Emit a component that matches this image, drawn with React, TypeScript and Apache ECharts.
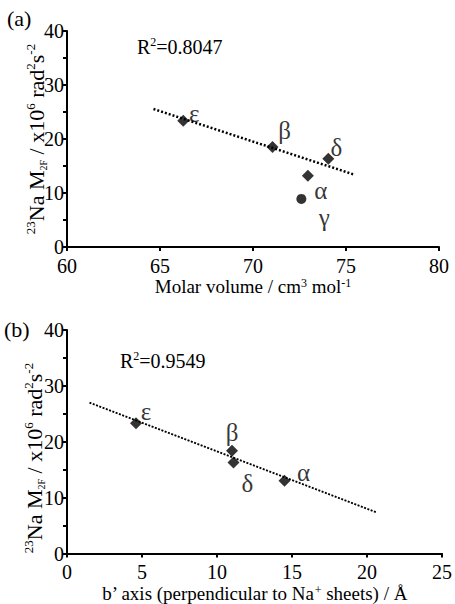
import React, { useEffect, useRef } from "react";
import * as echarts from "echarts";

// Panel (a): molar volume vs 23Na M2F
const aNames = ["ε", "β", "δ", "α"];
const aX = [66.25, 71.05, 74.05, 72.95];
const aY = [23.4, 18.5, 16.35, 13.2];
const aOutName = "γ";
const aOutX = 72.6;
const aOutY = 8.9;
const aFitX = [64.65, 75.4];
const aFitY = [25.55, 13.45];
const aR2 = "0.8047";

// Panel (b): b' axis vs 23Na M2F
const bNames = ["ε", "β", "δ", "α"];
const bX = [4.6, 11.0, 11.1, 14.5];
const bY = [23.3, 18.4, 16.3, 13.0];
const bFitX = [1.5, 20.6];
const bFitY = [27.0, 7.4];
const bR2 = "0.9549";

const yTicks = [0, 10, 20, 30, 40];

// label offsets (styling)
const aOffsets = [[11, -7], [12, -17], [8, -11], [13, 15]];
const aOutOffset = [23, 19];
const bOffsets = [[10, -12], [0, -18], [14, 21], [19, -8]];

const FONT = "Liberation Serif";

export default function App() {
  const ref = useRef<HTMLDivElement>(null);
  useEffect(() => {
    document.body.style.margin = "0";
    const chart = echarts.init(ref.current!, null, { renderer: "svg" });
    const yNameRich = {
      sup: { fontSize: 13, verticalAlign: "top", fontFamily: FONT, fill: "#000", lineHeight: 24 },
      sub: { fontSize: 10, verticalAlign: "bottom", fontFamily: FONT, fill: "#000", lineHeight: 21 },
      n: { fontSize: 22, fontFamily: FONT, fill: "#000", lineHeight: 24 },
    };
    const xNameRich = {
      sup: { fontSize: 12, verticalAlign: "top", fontFamily: FONT, color: "#000", lineHeight: 20 },
      n: { fontSize: 19, fontFamily: FONT, color: "#000", lineHeight: 20 },
    };
    const yName = "{sup|23}{n|Na M}{sub|2F}{n| / x10}{sup|6}{n| rad}{sup|2}{n|s}{sup|-2}";
    const axisCommon = {
      axisLine: { show: true, lineStyle: { color: "#000", width: 2 } },
      axisTick: { show: true, inside: false, length: 4, lineStyle: { color: "#000", width: 2 } },
      splitLine: { show: false },
    };
    const yAxisBase = (gridIndex: number) => ({
      type: "value",
      gridIndex,
      min: 0,
      max: 40,
      interval: 5,
      ...axisCommon,
      axisLabel: {
        color: "#000",
        fontFamily: FONT,
        fontSize: 20,
        lineHeight: 14,
        margin: 3,
        formatter: (v: number) => (yTicks.includes(v) ? String(v) : ""),
      },
    });
    const greekLabel = {
      show: true,
      position: "inside",
      color: "#000",
      textBorderWidth: 0,
      fontFamily: FONT,
      fontSize: 25,
      formatter: (p: any) => p.name,
    };
    const option = {
      animation: false,
      backgroundColor: "#fff",
      textStyle: { fontFamily: FONT, color: "#000" },
      grid: [
        { left: 67, top: 31, width: 372, height: 216 },
        { left: 67, top: 330, width: 378, height: 225 },
      ],
      xAxis: [
        {
          type: "value",
          gridIndex: 0,
          min: 60,
          max: 80,
          interval: 5,
          ...axisCommon,
          axisLabel: { color: "#000", fontFamily: FONT, fontSize: 20, margin: 11, lineHeight: 16 },
          name: "{n|Molar volume / cm}{sup|3}{n| mol}{sup|-1}",
          nameLocation: "middle",
          nameGap: 26,
          nameTextStyle: { rich: xNameRich },
        },
        {
          type: "value",
          gridIndex: 1,
          min: 0,
          max: 25,
          interval: 5,
          ...axisCommon,
          axisLabel: { color: "#000", fontFamily: FONT, fontSize: 20, margin: 10, lineHeight: 16 },
          name: "{n|b’ axis (perpendicular to Na}{sup|+}{n| sheets) / Å}",
          nameLocation: "middle",
          nameGap: 30,
          nameTextStyle: { rich: xNameRich },
        },
      ],
      yAxis: [yAxisBase(0), yAxisBase(1)],
      series: [
        {
          type: "line",
          xAxisIndex: 0,
          yAxisIndex: 0,
          data: aFitX.map((x, i) => [x, aFitY[i]]),
          symbol: "none",
          lineStyle: { color: "#000", width: 2.5, type: [2, 2] },
          silent: true,
        },
        {
          type: "scatter",
          xAxisIndex: 0,
          yAxisIndex: 0,
          symbol: "diamond",
          symbolSize: 12,
          itemStyle: { color: "#000" },
          label: greekLabel,
          data: aX.map((x, i) => ({
            name: aNames[i],
            value: [x, aY[i]],
            label: { offset: aOffsets[i] },
          })),
        },
        {
          type: "scatter",
          xAxisIndex: 0,
          yAxisIndex: 0,
          symbol: "circle",
          symbolSize: 10,
          itemStyle: { color: "#000" },
          label: greekLabel,
          data: [{ name: aOutName, value: [aOutX, aOutY], label: { offset: aOutOffset } }],
        },
        {
          type: "line",
          xAxisIndex: 1,
          yAxisIndex: 1,
          data: bFitX.map((x, i) => [x, bFitY[i]]),
          symbol: "none",
          lineStyle: { color: "#000", width: 1.8, type: [2, 1.5] },
          silent: true,
        },
        {
          type: "scatter",
          xAxisIndex: 1,
          yAxisIndex: 1,
          symbol: "diamond",
          symbolSize: 12,
          itemStyle: { color: "#000" },
          label: greekLabel,
          data: bX.map((x, i) => ({
            name: bNames[i],
            value: [x, bY[i]],
            label: { offset: bOffsets[i] },
          })),
        },
      ],
      graphic: [
        {
          type: "text",
          left: 7,
          top: 7,
          style: { text: "(a)", font: `22px ${FONT}`, fill: "#000" },
        },
        {
          type: "text",
          left: 4,
          top: 318,
          style: { text: "(b)", font: `22px ${FONT}`, fill: "#000" },
        },
        {
          type: "text",
          x: 36,
          y: 139,
          rotation: Math.PI / 2,
          style: { text: yName, align: "center", verticalAlign: "middle", rich: yNameRich },
        },
        {
          type: "text",
          x: 34,
          y: 458,
          rotation: Math.PI / 2,
          style: { text: yName, align: "center", verticalAlign: "middle", rich: yNameRich },
        },
        {
          type: "text",
          left: 137,
          top: 36,
          style: {
            text: `{n|R}{sup|2}{n|=${aR2}}`,
            rich: {
              n: { fontSize: 20, fontFamily: FONT, fill: "#000", lineHeight: 22 },
              sup: { fontSize: 12, fontFamily: FONT, fill: "#000", verticalAlign: "top", lineHeight: 22 },
            },
          },
        },
        {
          type: "text",
          left: 120,
          top: 350,
          style: {
            text: `{n|R}{sup|2}{n|=${bR2}}`,
            rich: {
              n: { fontSize: 20, fontFamily: FONT, fill: "#000", lineHeight: 22 },
              sup: { fontSize: 12, fontFamily: FONT, fill: "#000", verticalAlign: "top", lineHeight: 22 },
            },
          },
        },
      ],
    };
    chart.setOption(option as any);
    return () => chart.dispose();
  }, []);
  return <div ref={ref} style={{ width: 455, height: 604 }} />;
}
